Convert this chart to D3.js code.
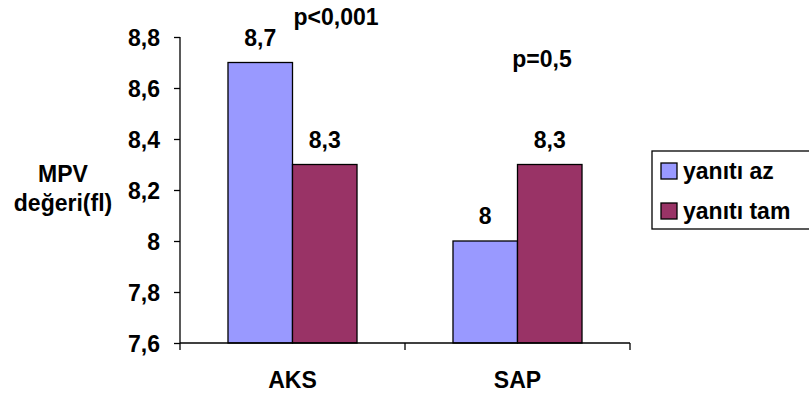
<!DOCTYPE html>
<html>
<head>
<meta charset="utf-8">
<script src="https://cdn.jsdelivr.net/npm/d3@7"></script>
<style>
  html, body { margin: 0; padding: 0; background: #fff; }
  svg { display: block; }
  text { font-family: "Liberation Sans", Arial, sans-serif; font-weight: bold; fill: #000; }
</style>
</head>
<body>
<svg id="chart" width="809" height="395"></svg>
<script>
// Groups and series
const categories = ["AKS", "SAP"];
const seriesNames = ["yanıtı az", "yanıtı tam"];
const yanitiAz = [8.7, 8.0];
const yanitiTam = [8.3, 8.3];
const valueLabels = [["8,7", "8"], ["8,3", "8,3"]];
const yTickValues = [7.6, 7.8, 8.0, 8.2, 8.4, 8.6, 8.8];
const yTickLabels = ["7,6", "7,8", "8", "8,2", "8,4", "8,6", "8,8"];
const pValues = ["p<0,001", "p=0,5"];
const colors = ["#9999FF", "#993366"];

const series = [yanitiAz, yanitiTam];
const FS = 23;

const svg = d3.select("#chart");
const plot = { left: 180, right: 630, top: 37, bottom: 343 };

const x = d3.scaleBand().domain(categories).range([plot.left, plot.right]);
const inner = d3.scaleBand().domain(seriesNames).range([0, x.bandwidth()]).paddingInner(0).paddingOuter(0.744);
const y = d3.scaleLinear().domain([7.6, 8.8]).range([plot.bottom, plot.top]);

// Bars with value labels
series.forEach((vals, si) => {
  svg.append("g").selectAll("rect")
    .data(categories)
    .join("rect")
    .attr("x", c => x(c) + inner(seriesNames[si]))
    .attr("y", (c, i) => y(vals[i]))
    .attr("width", inner.bandwidth())
    .attr("height", (c, i) => y(7.6) - y(vals[i]))
    .attr("fill", colors[si])
    .attr("stroke", "#000")
    .attr("stroke-width", 1.3);

  svg.append("g").selectAll("text")
    .data(categories)
    .join("text")
    .attr("x", c => x(c) + inner(seriesNames[si]) + inner.bandwidth() / 2)
    .attr("y", (c, i) => y(vals[i]) - 17)
    .attr("text-anchor", "middle")
    .attr("font-size", FS)
    .text((c, i) => valueLabels[si][i]);
});

// Y axis
const yAxis = d3.axisLeft(y)
  .tickValues(yTickValues)
  .tickSize(6)
  .tickPadding(14)
  .tickFormat((d, i) => yTickLabels[i]);
const gy = svg.append("g").attr("transform", `translate(${plot.left},0)`).call(yAxis);
gy.attr("font-size", null).attr("font-family", null);
gy.select(".domain").attr("stroke", "#000").attr("stroke-width", 1.3).attr("d", `M0,${plot.top}V${plot.bottom}`);
gy.selectAll(".tick line").attr("stroke", "#000").attr("stroke-width", 1.3);
gy.selectAll(".tick text").attr("font-size", FS).attr("fill", "#000").attr("dy", "0.36em");

// X axis line and category separators
svg.append("line")
  .attr("x1", plot.left).attr("x2", plot.right)
  .attr("y1", plot.bottom).attr("y2", plot.bottom)
  .attr("stroke", "#000").attr("stroke-width", 1.3);
const sepX = [plot.left, x("SAP"), plot.right];
svg.append("g").selectAll("line")
  .data(sepX)
  .join("line")
  .attr("x1", d => d).attr("x2", d => d)
  .attr("y1", plot.bottom).attr("y2", plot.bottom + 7)
  .attr("stroke", "#000").attr("stroke-width", 1.3);
svg.append("g").selectAll("text")
  .data(categories)
  .join("text")
  .attr("x", c => x(c) + x.bandwidth() / 2)
  .attr("y", 388)
  .attr("text-anchor", "middle")
  .attr("font-size", FS)
  .text(c => c);

// Y axis title
const yTitle = svg.append("text").attr("text-anchor", "middle").attr("font-size", FS);
yTitle.append("tspan").attr("x", 63).attr("y", 182).text("MPV");
yTitle.append("tspan").attr("x", 63).attr("y", 211).text("değeri(fl)");

// Significance notes
svg.append("text").attr("x", 336).attr("y", 25).attr("text-anchor", "middle").attr("font-size", FS).text(pValues[0]);
svg.append("text").attr("x", 542).attr("y", 67).attr("text-anchor", "middle").attr("font-size", FS).text(pValues[1]);

// Legend
const legend = svg.append("g");
legend.append("rect")
  .attr("x", 652).attr("y", 151).attr("width", 170).attr("height", 78)
  .attr("fill", "#fff").attr("stroke", "#000").attr("stroke-width", 1.3);
seriesNames.forEach((name, i) => {
  const yy = 163 + i * 40;
  legend.append("rect")
    .attr("x", 661).attr("y", yy).attr("width", 16).attr("height", 16)
    .attr("fill", colors[i]).attr("stroke", "#000").attr("stroke-width", 1.3);
  legend.append("text")
    .attr("x", 683).attr("y", yy + 16)
    .attr("font-size", FS)
    .text(name);
});
</script>
</body>
</html>
